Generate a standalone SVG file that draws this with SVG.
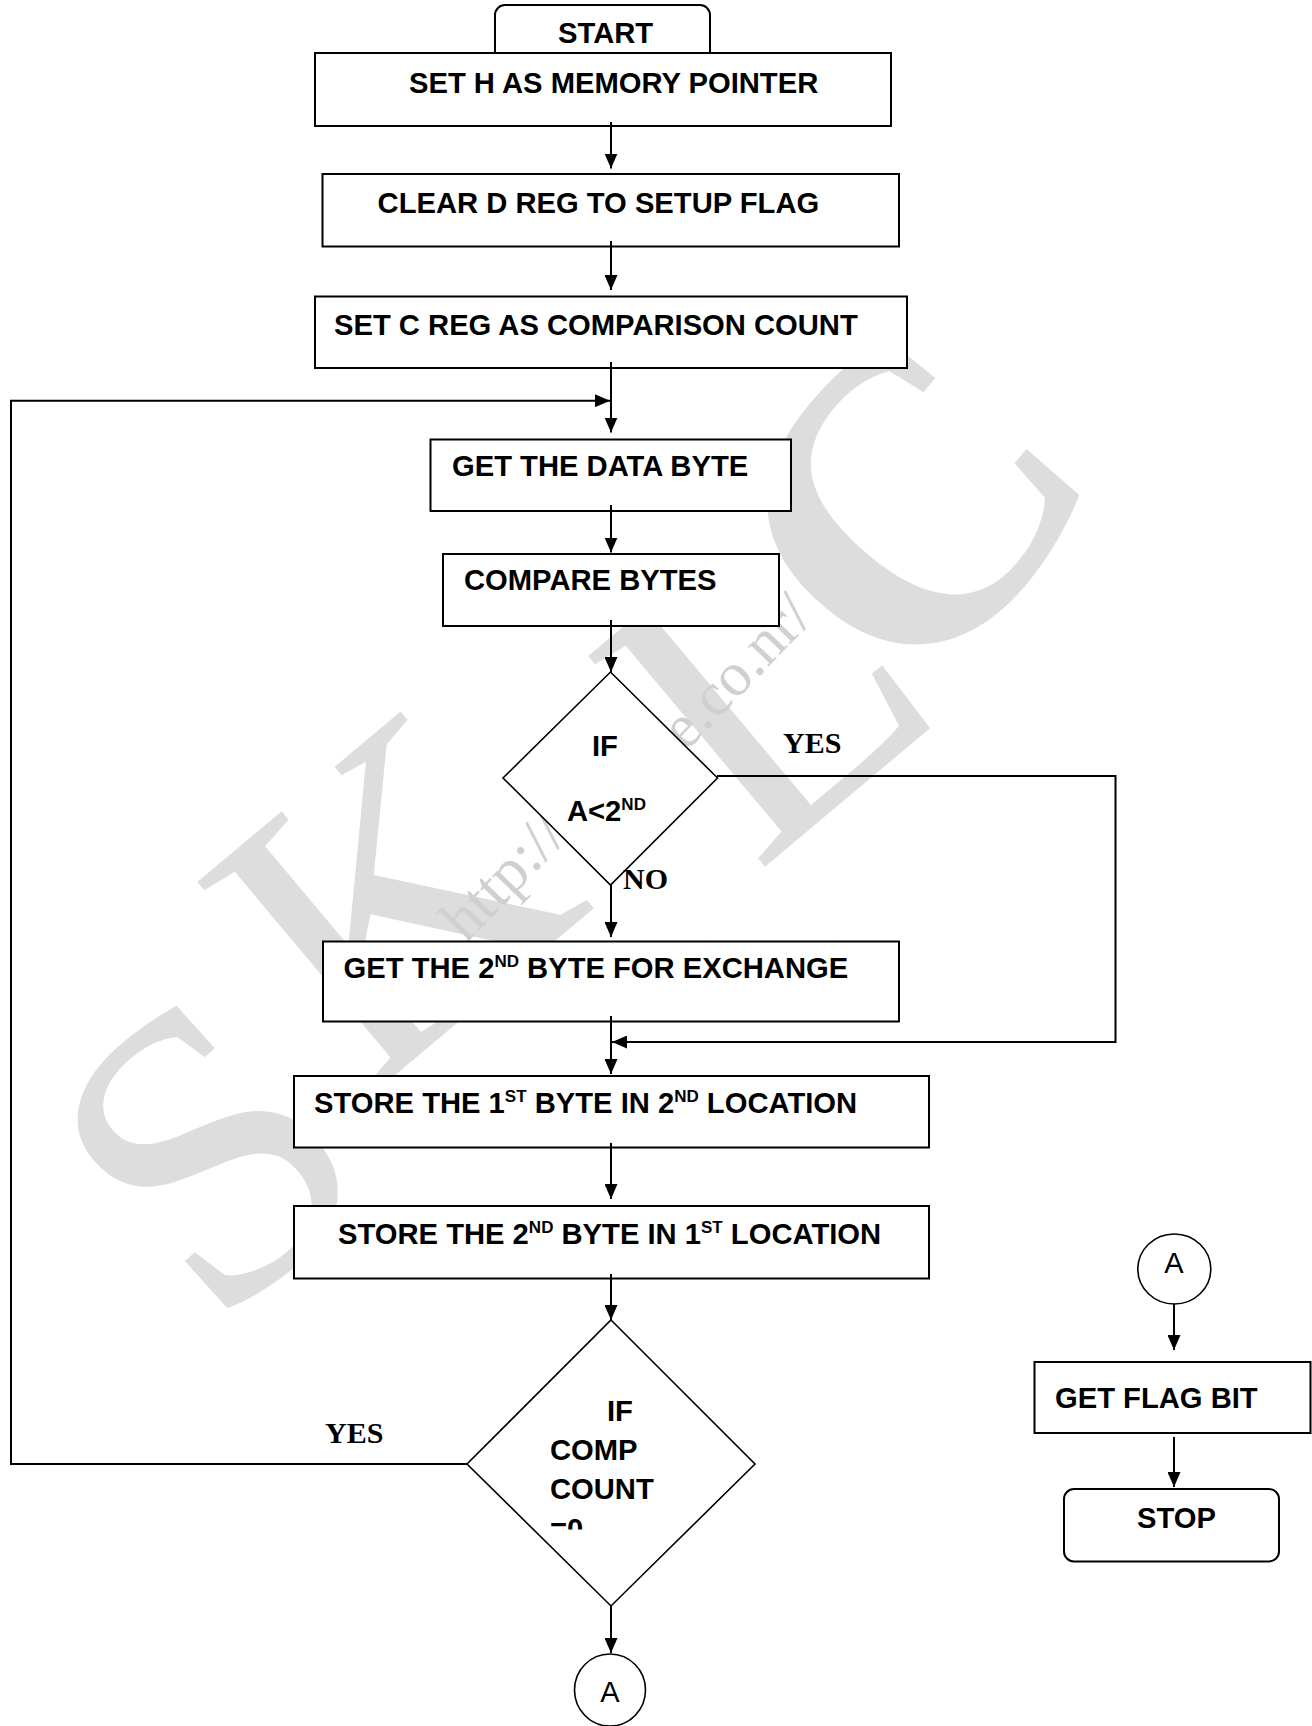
<svg xmlns="http://www.w3.org/2000/svg" width="1312" height="1726" viewBox="0 0 1312 1726">
  <style>
    .box { fill: #ffffff; stroke: #000000; stroke-width: 2; }
    .dia { fill: #ffffff; stroke: #000000; stroke-width: 1.6; }
    .lbl { font-family: "Liberation Sans", Arial, sans-serif; font-weight: bold; font-size: 29.2px; fill: #000000; }
    .sup { font-size: 17px; }
    .conn { font-family: "Liberation Sans", Arial, sans-serif; font-size: 29px; fill: #000000; }
    .yn { font-family: "Liberation Serif", "Times New Roman", serif; font-weight: bold; font-size: 30px; fill: #000000; }
    .wire { fill: none; stroke: #000000; stroke-width: 2; }
    .mark { font-family: "Liberation Serif", "Times New Roman", serif; font-size: 420px; fill: #dddddd; text-anchor: middle; }
    .url { font-family: "Liberation Serif", "Times New Roman", serif; font-size: 62px; fill: #d0d0d0; }
  </style>
  <defs>
    <marker id="arrow" markerUnits="userSpaceOnUse" markerWidth="15" markerHeight="13" refX="15" refY="6.5" orient="auto">
      <path d="M0,0 L15,6.5 L0,13 Z" fill="#000000"/>
    </marker>
    <clipPath id="cut-count">
      <rect x="540" y="1500" width="80" height="29.5"/>
    </clipPath>
  </defs>

  <rect x="0" y="0" width="1312" height="1726" fill="#ffffff"/>

  <!-- background watermark -->
  <g id="watermark">
    <text class="mark" font-size="470" transform="translate(300,1257) rotate(-42)">S</text>
    <text class="mark" transform="translate(481,1003) rotate(-40)">K</text>
    <text class="mark" transform="translate(854,792) rotate(-40)">L</text>
    <text class="mark" font-size="310" font-weight="bold" transform="translate(1013,594) rotate(-50)">C</text>
    <text class="url" transform="translate(466,944) rotate(-46)">http://c</text>
    <text class="url" transform="translate(686,752) rotate(-46)">e.co.nr/</text>
  </g>

  <!-- process steps -->
  <g id="start">
    <rect class="box" x="495" y="5" width="215" height="60" rx="10" ry="10"/>
    <text class="lbl" x="558" y="42.7">START</text>
  </g>
  <g id="set-h">
    <rect class="box" x="315" y="53" width="576" height="73"/>
    <text class="lbl" x="409" y="93">SET H AS MEMORY POINTER</text>
  </g>
  <g id="clear-d">
    <rect class="box" x="322.5" y="174" width="576.5" height="72.5"/>
    <text class="lbl" x="377.6" y="213.3">CLEAR D REG TO SETUP FLAG</text>
  </g>
  <g id="set-c">
    <rect class="box" x="315" y="296.5" width="592" height="71.5"/>
    <text class="lbl" x="334" y="335">SET C REG AS COMPARISON COUNT</text>
  </g>
  <g id="get-data">
    <rect class="box" x="430.5" y="439.5" width="360.5" height="71.5"/>
    <text class="lbl" x="452" y="476.3">GET THE DATA BYTE</text>
  </g>
  <g id="compare">
    <rect class="box" x="443" y="554" width="336" height="72"/>
    <text class="lbl" x="464" y="590.4">COMPARE BYTES</text>
  </g>
  <g id="if-less">
    <polygon class="dia" points="610.5,672 717.5,778 610.5,885 503,778"/>
    <text class="lbl" x="592" y="756">IF</text>
    <text class="lbl" x="567" y="821">A&lt;2<tspan class="sup" dy="-11">ND</tspan></text>
  </g>
  <g id="get-second">
    <rect class="box" x="323" y="941.5" width="576" height="80"/>
    <text class="lbl" x="343.6" y="977.5">GET THE 2<tspan class="sup" dy="-11">ND</tspan><tspan dy="11"> BYTE FOR EXCHANGE</tspan></text>
  </g>
  <g id="store-first">
    <rect class="box" x="294" y="1076" width="635" height="71.5"/>
    <text class="lbl" x="314" y="1113.3">STORE THE 1<tspan class="sup" dy="-11">ST</tspan><tspan dy="11"> BYTE IN 2</tspan><tspan class="sup" dy="-11">ND</tspan><tspan dy="11"> LOCATION</tspan></text>
  </g>
  <g id="store-second">
    <rect class="box" x="294" y="1206" width="635" height="72.5"/>
    <text class="lbl" x="338" y="1244.3">STORE THE 2<tspan class="sup" dy="-11">ND</tspan><tspan dy="11"> BYTE IN 1</tspan><tspan class="sup" dy="-11">ST</tspan><tspan dy="11"> LOCATION</tspan></text>
  </g>
  <g id="if-count">
    <polygon class="dia" points="611,1320 755,1464 611,1606 467,1464"/>
    <text class="lbl" x="607" y="1420.7">IF</text>
    <text class="lbl" x="550" y="1460">COMP</text>
    <text class="lbl" x="550" y="1499.3">COUNT</text>
    <text class="lbl" x="550" y="1538.6" clip-path="url(#cut-count)">=0</text>
  </g>
  <g id="conn-a-out">
    <ellipse cx="610" cy="1690" rx="35.5" ry="36" fill="#ffffff" stroke="#000000" stroke-width="1.6"/>
    <text class="conn" x="610" y="1702" text-anchor="middle">A</text>
  </g>
  <g id="conn-a-in">
    <ellipse cx="1174.3" cy="1269" rx="36.5" ry="35" fill="#ffffff" stroke="#000000" stroke-width="1.6"/>
    <text class="conn" x="1174" y="1273.3" text-anchor="middle">A</text>
  </g>
  <g id="get-flag">
    <rect class="box" x="1034.5" y="1362" width="276" height="71"/>
    <text class="lbl" x="1055" y="1408.3">GET FLAG BIT</text>
  </g>
  <g id="stop">
    <rect class="box" x="1064" y="1489" width="215" height="72.5" rx="10" ry="10"/>
    <text class="lbl" x="1137" y="1528.3">STOP</text>
  </g>

  <!-- connectors -->
  <g id="connectors">
    <path class="wire" d="M611,122 V168.5" marker-end="url(#arrow)"/>
    <path class="wire" d="M611,241 V290" marker-end="url(#arrow)"/>
    <path class="wire" d="M611,362 V432.5" marker-end="url(#arrow)"/>
    <path class="wire" d="M467,1464 H11 V400.7 H610" marker-end="url(#arrow)"/>
    <path class="wire" d="M611,505 V552.5" marker-end="url(#arrow)"/>
    <path class="wire" d="M611,620 V672" marker-end="url(#arrow)"/>
    <path class="wire" d="M717,776 H1115.5 V1042 H612" marker-end="url(#arrow)"/>
    <path class="wire" d="M611,885 V937" marker-end="url(#arrow)"/>
    <path class="wire" d="M611,1016 V1074" marker-end="url(#arrow)"/>
    <path class="wire" d="M611,1143 V1199" marker-end="url(#arrow)"/>
    <path class="wire" d="M611,1274 V1320" marker-end="url(#arrow)"/>
    <path class="wire" d="M611,1606 V1653" marker-end="url(#arrow)"/>
    <path class="wire" d="M1174,1304 V1350" marker-end="url(#arrow)"/>
    <path class="wire" d="M1174,1437 V1487" marker-end="url(#arrow)"/>
  </g>

  <!-- branch labels -->
  <g id="branch-labels">
    <text class="yn" x="783" y="752.6">YES</text>
    <text class="yn" x="623" y="889.3" font-size="31">NO</text>
    <text class="yn" x="325" y="1442.7">YES</text>
  </g>
</svg>
